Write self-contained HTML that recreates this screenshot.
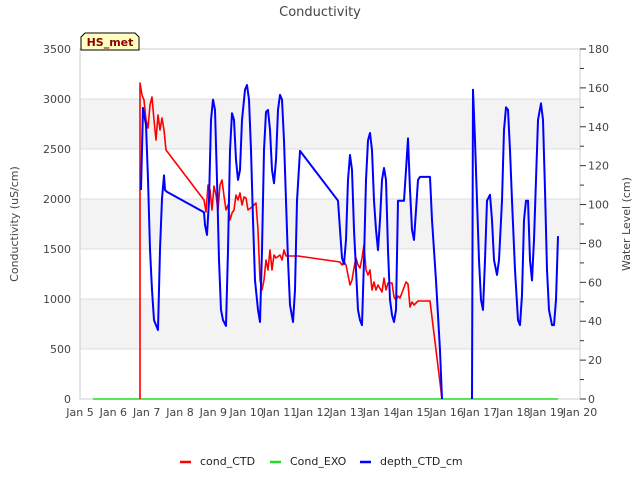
<!DOCTYPE html>
<html><head><meta charset="utf-8"><style>
body{margin:0;background:#fff;font-family:"Liberation Sans","DejaVu Sans",sans-serif}
svg text{font-family:"DejaVu Sans","Liberation Sans",sans-serif}
</style></head><body>
<svg id="c" width="640" height="480" xmlns="http://www.w3.org/2000/svg"></svg>
<script>
const xTickLabels=["Jan 5","Jan 6","Jan 7","Jan 8","Jan 9","Jan 10","Jan 11","Jan 12","Jan 13","Jan 14","Jan 15","Jan 16","Jan 17","Jan 18","Jan 19","Jan 20"];
const leftTicks=[0,500,1000,1500,2000,2500,3000,3500];
const rightTicks=[0,20,40,60,80,100,120,140,160,180];
const condDays=[1.80,1.80,1.86,1.92,1.98,2.04,2.10,2.16,2.22,2.28,2.34,2.40,2.46,2.52,2.58,3.72,3.78,3.84,3.90,3.96,4.02,4.08,4.14,4.20,4.26,4.32,4.38,4.44,4.50,4.56,4.62,4.68,4.74,4.80,4.86,4.92,4.98,5.04,5.16,5.28,5.34,5.40,5.46,5.52,5.58,5.64,5.70,5.76,5.82,5.88,6.00,6.06,6.12,6.18,6.54,7.80,7.86,7.92,7.98,8.04,8.10,8.16,8.22,8.28,8.34,8.40,8.46,8.52,8.58,8.64,8.70,8.76,8.82,8.88,8.94,9.06,9.12,9.18,9.24,9.36,9.42,9.48,9.54,9.60,9.78,9.84,9.90,9.96,10.02,10.14,10.50,10.86];
const condVals=[0,3160,3040,2990,2790,2710,2940,3020,2790,2590,2840,2690,2810,2690,2490,1990,1870,2140,2090,1890,2130,2040,1890,2140,2190,2030,1890,1940,1790,1860,1890,2040,1990,2060,1940,2020,2010,1890,1920,1960,1690,1190,1090,1190,1390,1290,1490,1290,1440,1410,1440,1390,1490,1430,1430,1370,1340,1370,1340,1240,1140,1190,1310,1410,1340,1310,1410,1540,1290,1240,1290,1090,1170,1090,1140,1070,1210,1090,1160,1160,1020,990,1030,1010,1170,1150,920,970,940,980,980,0];
const exoDays=[0.39,14.34];
const exoVals=[0,0];
const depthDays=[1.83,1.89,1.98,2.04,2.10,2.16,2.22,2.28,2.34,2.40,2.46,2.52,2.55,2.61,3.72,3.75,3.81,3.87,3.93,3.99,4.05,4.11,4.17,4.23,4.29,4.38,4.44,4.50,4.56,4.62,4.68,4.74,4.80,4.86,4.95,5.01,5.07,5.13,5.19,5.25,5.34,5.40,5.46,5.52,5.58,5.64,5.70,5.76,5.82,5.88,5.94,6.00,6.06,6.12,6.18,6.24,6.30,6.39,6.45,6.51,6.60,7.74,7.80,7.86,7.92,7.98,8.04,8.10,8.16,8.22,8.28,8.34,8.40,8.46,8.52,8.58,8.64,8.70,8.76,8.82,8.88,8.94,9.00,9.06,9.12,9.18,9.24,9.30,9.36,9.42,9.48,9.54,9.72,9.78,9.84,9.90,9.96,10.02,10.08,10.14,10.20,10.50,10.56,10.68,10.80,10.86,11.3,11.76,11.79,11.85,11.91,11.97,12.03,12.09,12.15,12.21,12.30,12.36,12.42,12.51,12.57,12.66,12.72,12.78,12.84,12.90,12.96,13.05,13.14,13.20,13.26,13.32,13.38,13.44,13.50,13.56,13.62,13.68,13.74,13.83,13.89,13.95,14.01,14.07,14.16,14.22,14.28,14.34];
const depthVals=[107.5,149.7,141,113,77,56,40.6,38,35.5,77,103,115,107.5,106.5,96,89.5,84.4,102,143.5,154,148.7,112.7,71.5,45.8,40.6,37.6,76.6,128,147,143.5,123,112.7,117.8,143.5,159,161.5,154,128,92,61,45.8,39.6,76.6,128,147.6,148.7,138.4,117.8,111,123,148.7,156.4,154,133,102,71.5,48.4,39.6,56,102,127.6,102,87,72.5,69.4,81.8,112.7,125.5,117.8,87,66.4,45.8,40.6,38,71.5,112.7,133,136.8,128,102,87,76.6,92,112.7,118.8,112.7,76.6,51,43.2,39.6,45.8,102,102,117.8,134,107.5,87,81.8,97,112.7,114.2,114.2,92,61,25,0,null,0,159,133,102,71.5,51,45.8,71.5,102,105,92,71.5,63.8,71.5,102,138.4,150,148.7,128,102,66.4,40.6,38,53.5,92,102,102,71.5,61,81.8,112.7,143.5,152,143.5,107.5,66.4,45.8,38,38,51,83.8];

const L=80,R=580,T=49,B=399;
const X=d=>L+d*(R-L)/15;
const YL=v=>B-v*(B-T)/3500;
const YR=v=>B-v*(B-T)/180;
const svg=document.getElementById('c');
const NS='http://www.w3.org/2000/svg';
function el(tag,attrs,parent){const e=document.createElementNS(NS,tag);for(const k in attrs)e.setAttribute(k,attrs[k]);(parent||svg).appendChild(e);return e;}
function txt(s,attrs){const e=el('text',attrs);e.textContent=s;return e;}

for(let i=0;i<leftTicks.length-1;i++){
  if(i%2===1){const r=el('rect',{x:L,y:YL(leftTicks[i+1]),width:R-L,height:YL(leftTicks[i])-YL(leftTicks[i+1]),fill:'#f3f3f3'});
  }
}
leftTicks.forEach(v=>{const g=el('line',{x1:L,x2:R,y1:YL(v),y2:YL(v),stroke:'#dcdcdc','stroke-width':1});

const t=txt(v,{x:L-9,y:YL(v)+4,'text-anchor':'end','font-size':11,fill:'#444'});
});
el('rect',{x:L,y:T,width:R-L,height:B-T,fill:'none',stroke:'#ccc','stroke-width':1});
rightTicks.forEach(v=>{const t=txt(v,{x:R+8,y:YR(v)+4,'font-size':11,fill:'#444'});
});
for(let v=10;v<180;v+=20){el('line',{x1:R,x2:R+4,y1:YR(v),y2:YR(v),stroke:'#333'});}
for(let v=0;v<=180;v+=20){el('line',{x1:R,x2:R+6,y1:YR(v),y2:YR(v),stroke:'#333'});}
xTickLabels.forEach((s,i)=>{const t=txt(s,{x:X(i),y:416,'text-anchor':'middle','font-size':11,fill:'#444'});
});

function series(days,vals,yf,color,name,w){
  let d='',pen=false;
  days.forEach((x,i)=>{const v=vals[i];if(v===null){pen=false;return;}d+=(pen?'L':'M')+X(x).toFixed(1)+' '+yf(v).toFixed(1);pen=true;});
  const p=el('path',{d:d,fill:'none',stroke:color,'stroke-width':w,'stroke-linejoin':'round'});
  
}
series(exoDays,exoVals,YL,'#22dd22','cond-exo-line',1.6);
series(condDays,condVals,YL,'#ff0000','cond-ctd-line',1.6);
series(depthDays,depthVals,YR,'#0000ff','depth-ctd-line',2);

let t=txt('Conductivity',{x:320,y:16,'text-anchor':'middle','font-size':13,fill:'#444'});

t=txt('Conductivity (uS/cm)',{x:0,y:0,transform:'translate(18,224) rotate(-90)','text-anchor':'middle','font-size':11,fill:'#444'});

t=txt('Water Level (cm)',{x:0,y:0,transform:'translate(630,224) rotate(-90)','text-anchor':'middle','font-size':11,fill:'#444'});


const b=el('path',{d:'M81 50 L81 37 L85 33 L135 33 L139 37 L139 50 Z',fill:'#ffffc0',stroke:'#000','stroke-width':1});

t=txt('HS_met',{x:110,y:46,'text-anchor':'middle','font-size':11,'font-weight':'bold',fill:'#8b0000'});


const leg=[['cond_CTD','#ff0000',180],['Cond_EXO','#22dd22',270],['depth_CTD_cm','#0000ff',360]];
leg.forEach(([s,c,x])=>{
  const l=el('line',{x1:x,x2:x+11,y1:462,y2:462,stroke:c,'stroke-width':2.5});
  
  const tt=txt(s,{x:x+20,y:465,'font-size':11,fill:'#222'});
  
});
</script>
</body></html>
